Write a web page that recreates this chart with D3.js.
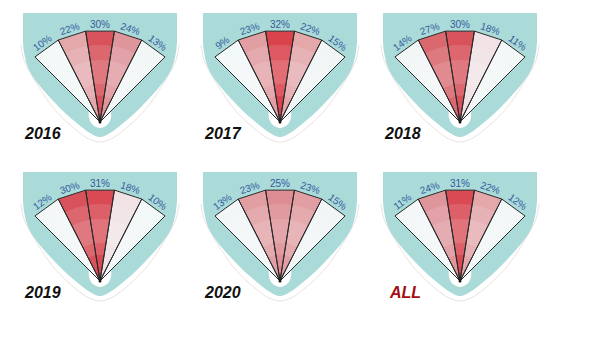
<!DOCTYPE html>
<html lang="en">
<head>
<meta charset="UTF-8">
<title>Shares by year</title>
<script src="https://d3js.org/d3.v7.min.js"></script>
<style>
  body { margin: 0; background: #fff; }
  .pct { font-family: "Liberation Sans", Arial, sans-serif; font-size: 10px; fill: #35599b; }
  .year { font-family: "Liberation Sans", Arial, sans-serif; font-size: 16px; font-weight: 900; font-style: italic; }
</style>
</head>
<body>
<svg width="595" height="351"></svg>
<script>
const panels = ["2016", "2017", "2018", "2019", "2020", "ALL"];
const share2016 = [10, 22, 30, 24, 13];
const share2017 = [9, 23, 32, 22, 15];
const share2018 = [14, 27, 30, 18, 11];
const share2019 = [12, 30, 31, 18, 10];
const share2020 = [13, 23, 25, 23, 15];
const shareAll = [11, 24, 31, 22, 12];
const series = [share2016, share2017, share2018, share2019, share2020, shareAll];
const slots = [0, 1, 2, 3, 4];

const teal = "#aadbd9";
const R = 92;

const svg = d3.select("svg");
svg.append("rect").attr("width", 595).attr("height", 351).attr("fill", "#fff");

const col = d3.scalePoint().domain([0, 1, 2]).range([100, 460]);
const row = d3.scalePoint().domain([0, 1]).range([122, 281]);
const angle = d3.scaleBand().domain(slots).range([-Math.PI / 4, Math.PI / 4]);
const color = d3.scaleLinear()
    .domain([9, 15, 18, 22, 25, 27, 30, 32])
    .range(["#f3f8f8", "#f2f5f5", "#f1e2e5", "#e4a8ab", "#dd8d93", "#d9686f", "#d8525b", "#da424c"])
    .clamp(true);

const pt = (a, r) => [r * Math.sin(a), -r * Math.cos(a)];
const smooth = d3.line().curve(d3.curveCatmullRom);
const ring = d3.arc().startAngle(-Math.PI / 4).endAngle(Math.PI / 4);
const mirror = half => half.concat(half.slice(0, -1).reverse().map(([x, y]) => [-x, y]));

const outlineHalf = [[-79, -77], [-76, -62], [-63, -38], [-45, -12], [-24, 8], [-11, 17], [0, 20]];
const shieldHalf = [[-77, -85], [-76, -70], [-70, -50], [-42, -16], [-22, 2], [-10, 11], [0, 15]];
const hollowHalf = [[-9, -30], [-11, -4], [-7, 3], [0, 6]];

panels.forEach((name, i) => {
    const vals = series[i];
    const g = svg.append("g")
        .attr("transform", `translate(${col(i % 3)},${row(Math.floor(i / 3))})`);

    // pale outline outside the shield
    g.append("path")
        .attr("d", smooth(mirror(outlineHalf)))
        .attr("fill", "none")
        .attr("stroke", "#ece2e2")
        .attr("stroke-width", 1);

    // teal shield
    g.append("rect")
        .attr("x", -77).attr("y", -109)
        .attr("width", 154).attr("height", 30)
        .attr("fill", teal);
    g.append("path")
        .attr("d", smooth(mirror(shieldHalf)) + "Z")
        .attr("fill", teal);

    // small white hollow under the apex
    g.append("path")
        .attr("d", smooth(mirror(hollowHalf)) + "Z")
        .attr("fill", "#fff");

    const wedge = j => {
        const a0 = angle(j), a1 = a0 + angle.bandwidth();
        return "M0,0L" + pt(a0, R).join(",") + "L" + pt(a1, R).join(",") + "Z";
    };

    g.selectAll(".wedge")
        .data(slots)
        .enter().append("path")
        .attr("class", "wedge")
        .attr("d", wedge)
        .attr("fill", j => color(vals[j]));

    // lighter concentric bands
    g.append("path").attr("d", ring.innerRadius(26).outerRadius(77)()).attr("fill", "#fff").attr("opacity", 0.12);
    g.append("path").attr("d", ring.innerRadius(38).outerRadius(62)()).attr("fill", "#fff").attr("opacity", 0.12);

    g.selectAll(".edge")
        .data(slots)
        .enter().append("path")
        .attr("class", "edge")
        .attr("d", wedge)
        .attr("fill", "none")
        .attr("stroke", "#2a2a2a")
        .attr("stroke-width", 1)
        .attr("stroke-linejoin", "round");

    g.append("circle").attr("r", 1.5).attr("fill", "#111");

    g.selectAll(".pct")
        .data(slots)
        .enter().append("text")
        .attr("class", "pct")
        .attr("transform", j => {
            const a = angle(j) + angle.bandwidth() / 2;
            const [x, y] = pt(a, 98);
            return `translate(${x},${y}) rotate(${a * 180 / Math.PI})`;
        })
        .attr("text-anchor", "middle")
        .attr("dominant-baseline", "central")
        .text(j => vals[j] + "%");

    g.append("text")
        .attr("class", "year")
        .attr("x", name === "ALL" ? -70 : -75)
        .attr("y", 17)
        .style("fill", name === "ALL" ? "#a30d12" : "#111")
        .text(name);
});
</script>
</body>
</html>
